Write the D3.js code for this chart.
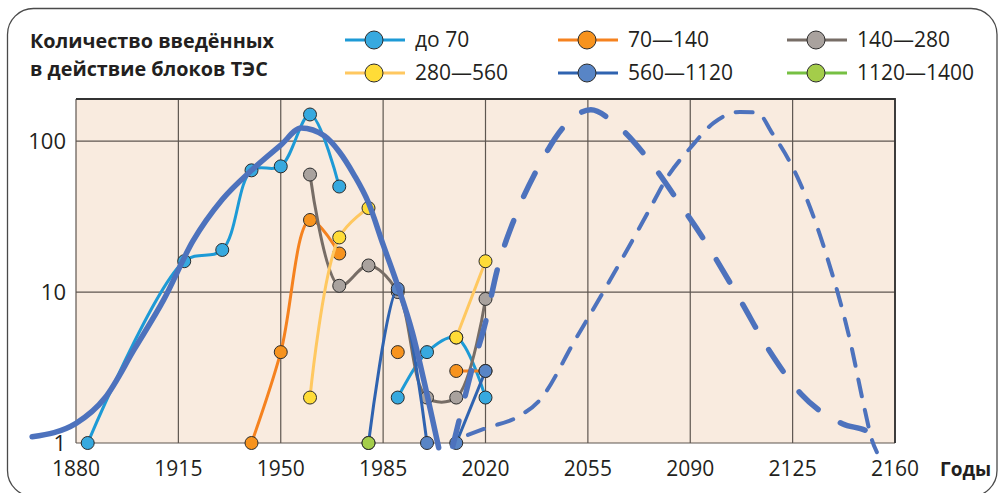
<!DOCTYPE html>
<html>
<head>
<meta charset="utf-8">
<script src="https://cdn.jsdelivr.net/npm/d3@7"></script>
<style>
  body { margin: 0; background: #fff; }
  svg { display: block; font-family: "Open Sans", sans-serif; }
</style>
</head>
<body>
<div class="chart-box"></div>
<script>
/* Data: years on x, number of units (log scale) */
const years = [1884, 1917, 1930, 1940, 1950, 1960, 1970, 1980, 1990, 2000, 2010, 2020];

const upTo70    = [1, 16, 19, 64, 68, 150, 50, null, 2, 4, 5, 2];
const from70    = [null, null, null, 1, 4, 30, 18, null, 4, null, 3, 3];
const from140   = [null, null, null, null, null, 60, 11, 15, 10, 2, 2, 9];
const from280   = [null, null, null, null, null, 2, 23, 36, null, null, 5, 16];
const from560   = [null, null, null, null, null, null, null, 1, 10.5, 1, 1, 3];
const from1120  = [null, null, null, null, null, null, null, 1, null, null, null, null];

// which neighbouring points are joined by a line (false = no line to the next point)
const from560Links = [true, true, true, true, true, true, true, true, true, false, true, true];

const seriesNames = ["до 70", "70—140", "140—280", "280—560", "560—1120", "1120—1400"];
const lineColors  = ["#1d9ad6", "#f5821f", "#776d66", "#ffc860", "#2f63b0", "#76c043"];
const dotColors   = ["#37a9df", "#f7931e", "#a9a29e", "#ffdc37", "#5885c6", "#a4cd4a"];

/* trend curves */
const trendYears  = [1865, 1880, 1890, 1900, 1910, 1920, 1930, 1940, 1950, 1957, 1965, 1970, 1975, 1980, 1985, 1990, 1995, 2000, 2004];
const trendValues = [1.1, 1.35, 2.0, 4.2, 8.9, 21.8, 41, 64, 94, 122, 108, 85, 60, 39, 20.6, 11, 5.4, 2.1, 0.93];

const forecastAYears  = [2008.8, 2012, 2015, 2020, 2024, 2030, 2038, 2048, 2056, 2064, 2077, 2087, 2093, 2107, 2117, 2128, 2142, 2151, 2153.5];
const forecastAValues = [0.95, 1.7, 2.9, 6.3, 14, 31, 67, 132, 161, 132, 70, 37, 25, 8.9, 4.1, 2.1, 1.34, 1.18, 1.05];

const forecastBYears  = [2014, 2020.5, 2031, 2038.6, 2050.6, 2062.6, 2076, 2082, 2090, 2098, 2107, 2113, 2118, 2124, 2127.5, 2136, 2144.6, 2149.7, 2152.1, 2153.8];
const forecastBValues = [1.13, 1.26, 1.49, 1.93, 4.8, 12, 35, 57, 90, 132, 156, 154, 113, 73, 53, 19, 4.8, 1.65, 1.05, 0.87];

const xTicks = [1880, 1915, 1950, 1985, 2020, 2055, 2090, 2125, 2160];
const yTicks = [1, 10, 100];

/* Create SVG */
let width = 1000, height = 493;
let svg = d3.select('.chart-box')
  .append('svg')
  .attr('width', width)
  .attr('height', height);

let plot = {left: 76, right: 895, top: 99, bottom: 443};

let x = d3.scaleLinear().domain([1880, 2160]).range([plot.left, plot.right]);
let y = d3.scaleLog().domain([1, 190]).range([plot.bottom, plot.top]);

// outer rounded frame
svg.append("rect")
  .attr("x", 7.5).attr("y", 8.5)
  .attr("width", 989.5).attr("height", 488)
  .attr("rx", 26)
  .style("fill", "none")
  .style("stroke", "#4a4a4a")
  .style("stroke-width", 1.3);

// plot background
svg.append("rect")
  .attr("x", plot.left).attr("y", plot.top)
  .attr("width", plot.right - plot.left).attr("height", plot.bottom - plot.top)
  .style("fill", "#f9ebdf");

// grid
svg.append("g")
  .selectAll("line")
  .data(xTicks)
  .enter()
  .append("line")
  .attr("x1", d => x(d)).attr("x2", d => x(d))
  .attr("y1", plot.top).attr("y2", plot.bottom)
  .style("stroke", "#5e5650")
  .style("stroke-width", 1.2);

svg.append("g")
  .selectAll("line")
  .data(yTicks)
  .enter()
  .append("line")
  .attr("x1", plot.left).attr("x2", plot.right)
  .attr("y1", d => y(d)).attr("y2", d => y(d))
  .style("stroke", "#5e5650")
  .style("stroke-width", 1.2);

// top and right border of plot area
svg.append("path")
  .attr("d", `M${plot.left},${plot.top}H${plot.right}V${plot.bottom}`)
  .style("fill", "none")
  .style("stroke", "#333")
  .style("stroke-width", 1.8);

// axis labels
svg.append("g")
  .selectAll("text")
  .data(xTicks)
  .enter()
  .append("text")
  .attr("x", d => x(d))
  .attr("y", 476)
  .attr("text-anchor", "middle")
  .style("font-size", "21px")
  .style("fill", "#231f20")
  .text(d => d);

svg.append("g")
  .selectAll("text")
  .data(yTicks)
  .enter()
  .append("text")
  .attr("x", 66)
  .attr("y", d => y(d) + 8)
  .attr("text-anchor", "end")
  .style("font-size", "22px")
  .style("fill", "#231f20")
  .text(d => d);

svg.append("text")
  .attr("x", 940).attr("y", 476)
  .style("font-size", "19px")
  .style("font-weight", "bold")
  .style("fill", "#231f20")
  .text("Годы");

// title
svg.append("text")
  .attr("x", 30).attr("y", 48)
  .style("font-size", "19.8px")
  .style("font-weight", "bold")
  .style("fill", "#231f20")
  .text("Количество введённых");
svg.append("text")
  .attr("x", 30).attr("y", 76)
  .style("font-size", "19.8px")
  .style("font-weight", "bold")
  .style("fill", "#231f20")
  .text("в действие блоков ТЭС");

/* data series */
svg.append("clipPath").attr("id", "plot-clip")
  .append("rect")
  .attr("x", plot.left).attr("y", plot.top - 20)
  .attr("width", plot.right - plot.left).attr("height", plot.bottom - plot.top + 19);

let allSeries = [upTo70, from70, from140, from280, from560, from1120];

let line = d3.line()
  .defined(d => d.v !== null)
  .x(d => x(d.year))
  .y(d => y(d.v))
  .curve(d3.curveCatmullRom);

let seriesG = svg.append("g");
allSeries.forEach((vals, i) => {
  let pts = years.map((yr, j) => ({year: yr, v: vals[j]}));
  // split into pieces where lines are broken
  let pieces = [[]];
  pts.forEach((p, j) => {
    pieces[pieces.length - 1].push(p);
    if (i === 4 && !from560Links[j]) pieces.push([]);
  });
  let g = seriesG.append("g");
  g.selectAll("path")
    .data(pieces)
    .enter()
    .append("path")
    .attr("d", line)
    .attr("clip-path", "url(#plot-clip)")
    .style("fill", "none")
    .style("stroke", lineColors[i])
    .style("stroke-width", 3);
  g.selectAll("circle")
    .data(pts.filter(p => p.v !== null))
    .enter()
    .append("circle")
    .attr("cx", d => x(d.year))
    .attr("cy", d => y(d.v))
    .attr("r", 6.5)
    .style("fill", dotColors[i])
    .style("stroke", "#2b2b2b")
    .style("stroke-width", 1);
});

/* trend and forecasts */
let trendLine = d3.line()
  .x(d => x(d[0]))
  .y(d => y(d[1]))
  .curve(d3.curveMonotoneX);

function renderTrend(yrs, vals, w, dash) {
  svg.append("path")
    .datum(yrs.map((yr, i) => [yr, vals[i]]))
    .attr("d", trendLine)
    .style("fill", "none")
    .style("stroke", "#4d72bd")
    .style("stroke-width", w)
    .style("stroke-linecap", "round")
    .style("stroke-dasharray", dash);
}
renderTrend(trendYears, trendValues, 5.5, null);
renderTrend(forecastAYears, forecastAValues, 5.5, "26,26");
renderTrend(forecastBYears, forecastBValues, 4, "17,14");

/* legend */
let legendX = [345, 558, 787];
let legendY = [40, 73];
let legend = svg.append("g")
  .selectAll("g")
  .data(seriesNames)
  .enter()
  .append("g")
  .attr("transform", (d, i) => `translate(${legendX[i % 3]},${legendY[Math.floor(i / 3)]})`);

legend.append("line")
  .attr("x1", 0).attr("x2", 60)
  .style("stroke", (d, i) => lineColors[i])
  .style("stroke-width", 3.2);
legend.append("circle")
  .attr("cx", 29).attr("r", 9)
  .style("fill", (d, i) => dotColors[i])
  .style("stroke", "#2b2b2b")
  .style("stroke-width", 1);
legend.append("text")
  .attr("x", 70).attr("y", 7)
  .style("font-size", "21px")
  .style("fill", "#231f20")
  .text(d => d);
</script>
</body>
</html>
